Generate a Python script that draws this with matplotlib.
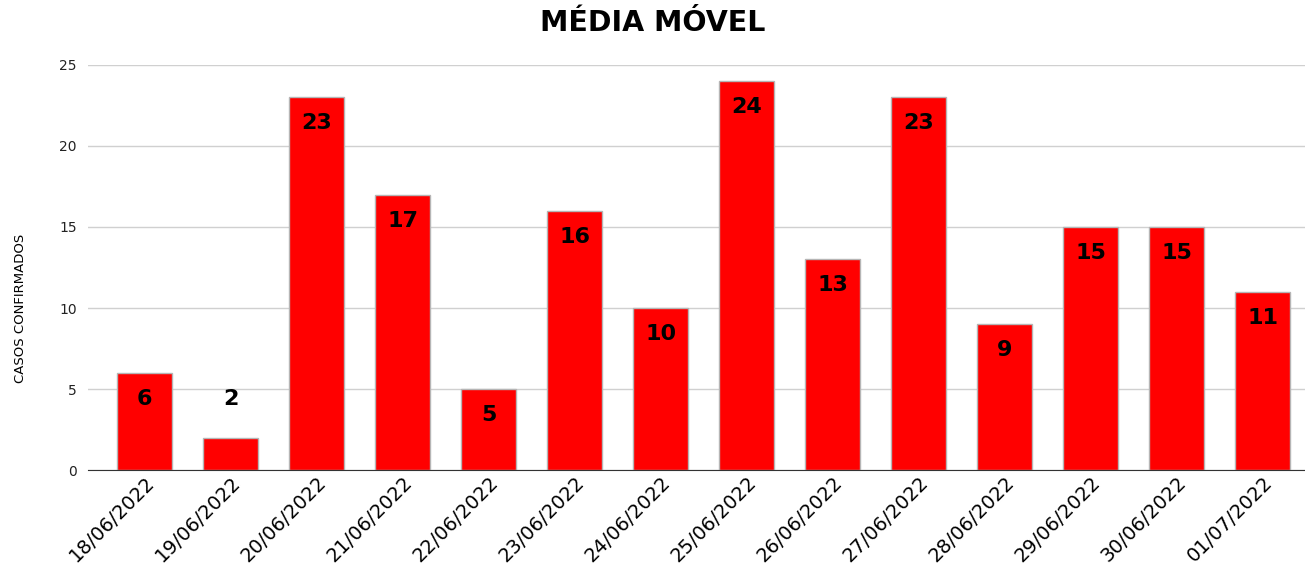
import numpy as np
import matplotlib.pyplot as plt

plt.rcParams['font.family'] = ['DejaVu Sans']

datas = ["18/06/2022", "19/06/2022", "20/06/2022", "21/06/2022", "22/06/2022",
         "23/06/2022", "24/06/2022", "25/06/2022", "26/06/2022", "27/06/2022",
         "28/06/2022", "29/06/2022", "30/06/2022", "01/07/2022"]
casos = [6, 2, 23, 17, 5, 16, 10, 24, 13, 23, 9, 15, 15, 11]

fig = plt.figure(figsize=(13.05, 5.68), dpi=100)
ax = fig.add_axes([0.0674, 0.1725, 0.9326, 0.7131])

x = np.arange(len(datas))
ax.bar(x, casos, width=0.64, color="#ff0000", edgecolor="#b5b5b5", linewidth=1, zorder=2)

# rótulos dentro da barra (ou acima, se a barra for baixa)
for xi, v in zip(x, casos):
    if v >= 4:
        ax.text(xi, v - 1.6, str(v), ha="center", va="center", fontsize=16,
                fontweight="bold", color="black", zorder=3)
    else:
        ax.text(xi, v + 2.4, str(v), ha="center", va="center", fontsize=16,
                fontweight="bold", color="black", zorder=3)

ax.set_xlim(-0.66, 13.49)
ax.set_ylim(0, 25)
ax.set_yticks([0, 5, 10, 15, 20, 25])
ax.yaxis.grid(color="#d0d0d0", linewidth=1, zorder=0)
ax.set_axisbelow(True)
for s in ["top", "right", "left"]:
    ax.spines[s].set_visible(False)
ax.spines["bottom"].set_color("#333333")
ax.tick_params(axis="y", length=0, labelsize=10, pad=8, colors="#222222")
ax.tick_params(axis="x", length=0, labelsize=14, pad=2)
ax.set_xticks(x)
ax.set_xticklabels(datas, rotation=45, ha="right", rotation_mode="anchor")

ax.set_ylabel("CASOS CONFIRMADOS", fontsize=9.5)
ax.yaxis.set_label_coords(-0.05, 0.4)
fig.suptitle("MÉDIA MÓVEL", fontsize=20.5, fontweight="bold", y=0.985)

plt.savefig("out.png", dpi=100)
